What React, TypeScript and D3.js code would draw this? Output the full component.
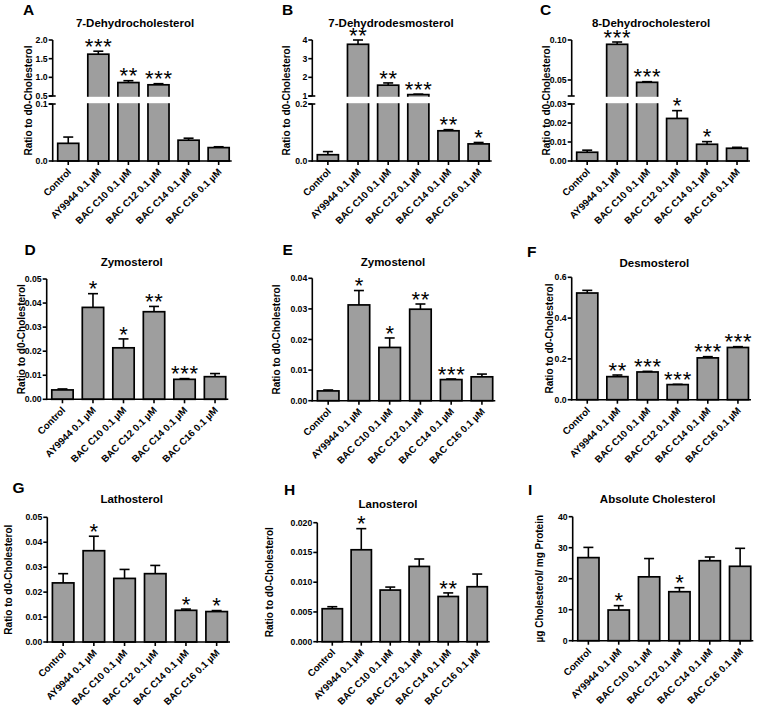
import React from "react";
import * as d3 from "d3";

const categories = [
  "Control",
  "AY9944 0.1 µM",
  "BAC C10 0.1 µM",
  "BAC C12 0.1 µM",
  "BAC C14 0.1 µM",
  "BAC C16 0.1 µM",
];

// A: 7-Dehydrocholesterol
const dhcMean = [0.031, 1.62, 0.86, 0.8, 0.0365, 0.0235];
const dhcErr = [0.011, 0.08, 0.05, 0.03, 0.0035, 0.0015];
const dhcStars = ["", "***", "**", "***", "", ""];
const dhcTicksLow = [0, 0.1];
const dhcTicksHigh = [0.5, 1.0, 1.5, 2.0];

// B: 7-Dehydrodesmosterol
const dhdMean = [0.022, 3.77, 1.58, 1.075, 0.106, 0.06];
const dhdErr = [0.011, 0.23, 0.12, 0.025, 0.004, 0.005];
const dhdStars = ["", "**", "**", "***", "**", "*"];
const dhdTicksLow = [0, 0.2];
const dhdTicksHigh = [1, 2, 3, 4];

// C: 8-Dehydrocholesterol
const edhcMean = [0.0046, 0.0946, 0.0471, 0.0224, 0.0088, 0.0067];
const edhcErr = [0.0011, 0.0029, 0.0008, 0.0041, 0.0014, 0.0005];
const edhcStars = ["", "***", "***", "*", "*", ""];
const edhcTicksLow = [0, 0.01, 0.02, 0.03];
const edhcTicksHigh = [0.05, 0.1];

// D: Zymosterol
const zymMean = [0.0039, 0.0382, 0.0214, 0.0364, 0.0083, 0.0094];
const zymErr = [0.0004, 0.0057, 0.0037, 0.0022, 0.0003, 0.0013];
const zymStars = ["", "*", "*", "**", "***", ""];
const zymTicks = [0, 0.01, 0.02, 0.03, 0.04, 0.05];

// E: Zymostenol
const zynMean = [0.0032, 0.0313, 0.0174, 0.0299, 0.0069, 0.0078];
const zynErr = [0.0003, 0.0047, 0.0031, 0.0017, 0.0002, 0.0009];
const zynStars = ["", "*", "*", "**", "***", ""];
const zynTicks = [0, 0.01, 0.02, 0.03, 0.04];

// F: Desmosterol
const desMean = [0.523, 0.113, 0.136, 0.074, 0.205, 0.256];
const desErr = [0.013, 0.008, 0.003, 0.0015, 0.006, 0.004];
const desStars = ["", "**", "***", "***", "***", "***"];
const desTicks = [0, 0.2, 0.4, 0.6];

// G: Lathosterol
const latMean = [0.0237, 0.0366, 0.0255, 0.0274, 0.0127, 0.0122];
const latErr = [0.0037, 0.0058, 0.0036, 0.0033, 0.0005, 0.0004];
const latStars = ["", "*", "", "", "*", "*"];
const latTicks = [0, 0.01, 0.02, 0.03, 0.04, 0.05];

// H: Lanosterol
const lanMean = [0.00554, 0.01545, 0.00868, 0.01265, 0.0076, 0.00924];
const lanErr = [0.00034, 0.00355, 0.0005, 0.00125, 0.0006, 0.00213];
const lanStars = ["", "*", "", "", "**", ""];
const lanTicks = [0, 0.005, 0.01, 0.015, 0.02];

// I: Absolute Cholesterol
const cholMean = [26.8, 9.9, 20.6, 15.8, 25.8, 24.0];
const cholErr = [3.3, 1.4, 5.9, 1.3, 1.2, 5.8];
const cholStars = ["", "*", "", "*", "", ""];
const cholTicks = [0, 10, 20, 30, 40];

const FONT = "'Liberation Sans', Arial, Helvetica, sans-serif";
const BAR_FILL = "#9e9e9e";
const RATIO = "Ratio to d0-Cholesterol";

type Panel = {
  letter: string;
  title: string;
  yLabel: string;
  mean: number[];
  err: number[];
  stars: string[];
  x0: number;
  x1: number;
  yTop: number;
  yBot: number;
  broken?: boolean;
  domain?: [number, number];
  ticks?: number[];
  fmt?: string;
  lowDomain?: [number, number];
  highDomain?: [number, number];
  lowTicks?: number[];
  highTicks?: number[];
  lowFmt?: string;
  highFmt?: string;
  breakLow?: number;
  breakHigh?: number;
  titleX: number;
  titleY: number;
  letterX: number;
  letterY: number;
  yTitleX: number;
};

const panels: Panel[] = [
  {
    letter: "A", title: "7-Dehydrocholesterol", yLabel: RATIO,
    mean: dhcMean, err: dhcErr, stars: dhcStars,
    x0: 52.7, x1: 231.7, yTop: 40, yBot: 161, broken: true,
    lowDomain: [0, 0.1], highDomain: [0.5, 2.0], lowTicks: dhcTicksLow, highTicks: dhcTicksHigh,
    lowFmt: ".1f", highFmt: ".1f", breakLow: 104, breakHigh: 96,
    titleX: 135, titleY: 27.4, letterX: 23, letterY: 15, yTitleX: 28,
  },
  {
    letter: "B", title: "7-Dehydrodesmosterol", yLabel: RATIO,
    mean: dhdMean, err: dhdErr, stars: dhdStars,
    x0: 312.3, x1: 491.7, yTop: 40, yBot: 161, broken: true,
    lowDomain: [0, 0.2], highDomain: [1, 4], lowTicks: dhdTicksLow, highTicks: dhdTicksHigh,
    lowFmt: ".1f", highFmt: "d", breakLow: 104, breakHigh: 96,
    titleX: 391, titleY: 27.4, letterX: 282, letterY: 15, yTitleX: 286.3,
  },
  {
    letter: "C", title: "8-Dehydrocholesterol", yLabel: RATIO,
    mean: edhcMean, err: edhcErr, stars: edhcStars,
    x0: 571.7, x1: 750, yTop: 40, yBot: 161, broken: true,
    lowDomain: [0, 0.03], highDomain: [0.03, 0.1], lowTicks: edhcTicksLow, highTicks: edhcTicksHigh,
    lowFmt: ".2f", highFmt: ".2f", breakLow: 104, breakHigh: 96,
    titleX: 651, titleY: 27.4, letterX: 540, letterY: 15, yTitleX: 546,
  },
  {
    letter: "D", title: "Zymosterol", yLabel: RATIO,
    mean: zymMean, err: zymErr, stars: zymStars,
    x0: 46.7, x1: 228.3, yTop: 279, yBot: 399.3, domain: [0, 0.05], ticks: zymTicks, fmt: ".2f",
    titleX: 131.7, titleY: 266.4, letterX: 24.5, letterY: 255, yTitleX: 21.7,
  },
  {
    letter: "E", title: "Zymostenol", yLabel: RATIO,
    mean: zynMean, err: zynErr, stars: zynStars,
    x0: 312.3, x1: 495.3, yTop: 278.3, yBot: 400.7, domain: [0, 0.04], ticks: zynTicks, fmt: ".2f",
    titleX: 393, titleY: 266.4, letterX: 282.5, letterY: 255, yTitleX: 276,
  },
  {
    letter: "F", title: "Desmosterol", yLabel: RATIO,
    mean: desMean, err: desErr, stars: desStars,
    x0: 571.7, x1: 751, yTop: 277.3, yBot: 399.7, domain: [0, 0.6], ticks: desTicks, fmt: ".1f",
    titleX: 654.3, titleY: 267.4, letterX: 527, letterY: 256.7, yTitleX: 549.3,
  },
  {
    letter: "G", title: "Lathosterol", yLabel: RATIO,
    mean: latMean, err: latErr, stars: latStars,
    x0: 47.3, x1: 230, yTop: 517.3, yBot: 642, domain: [0, 0.05], ticks: latTicks, fmt: ".2f",
    titleX: 131.7, titleY: 503.4, letterX: 12.5, letterY: 493.3, yTitleX: 8.3,
  },
  {
    letter: "H", title: "Lanosterol", yLabel: RATIO,
    mean: lanMean, err: lanErr, stars: lanStars,
    x0: 317.3, x1: 489.7, yTop: 522.7, yBot: 641.7, domain: [0, 0.02], ticks: lanTicks, fmt: ".3f",
    titleX: 388, titleY: 508, letterX: 284, letterY: 495, yTitleX: 269.7,
  },
  {
    letter: "I", title: "Absolute Cholesterol", yLabel: "µg Cholesterol/ mg Protein",
    mean: cholMean, err: cholErr, stars: cholStars,
    x0: 572.7, x1: 753.3, yTop: 516.7, yBot: 640.7, domain: [0, 40], ticks: cholTicks, fmt: "d",
    titleX: 657.7, titleY: 503, letterX: 528, letterY: 495, yTitleX: 539.3,
  },
];

function PanelView({ p }: { p: Panel }) {
  const x = d3
    .scaleBand<string>()
    .domain(categories)
    .range([p.x0 + 0.5, p.x1 + 2])
    .paddingInner(0.3)
    .paddingOuter(0.15);
  const bw = x.bandwidth();

  let y: (v: number) => number;
  const tickItems: { y: number; label: string }[] = [];
  if (p.broken) {
    const low = d3.scaleLinear().domain(p.lowDomain!).range([p.yBot, p.breakLow!]);
    const high = d3.scaleLinear().domain(p.highDomain!).range([p.breakHigh!, p.yTop]);
    y = (v: number) => (v <= p.lowDomain![1] ? low(v) : high(v));
    const lf = d3.format(p.lowFmt!);
    const hf = d3.format(p.highFmt!);
    p.lowTicks!.forEach((t) => tickItems.push({ y: low(t), label: lf(t) }));
    p.highTicks!.forEach((t) => tickItems.push({ y: high(t), label: hf(t) }));
  } else {
    const s = d3.scaleLinear().domain(p.domain!).range([p.yBot, p.yTop]);
    y = s;
    const f = d3.format(p.fmt!);
    p.ticks!.forEach((t) => tickItems.push({ y: s(t), label: f(t) }));
  }

  const sw = 1.7;
  const yMid = (p.yTop + p.yBot) / 2;

  return (
    <g>
      <text x={p.letterX} y={p.letterY} fontFamily={FONT} fontWeight="bold" fontSize={15.5} fill="#000">
        {p.letter}
      </text>
      <text x={p.titleX} y={p.titleY} fontFamily={FONT} fontWeight="bold" fontSize={11.5} textAnchor="middle" fill="#000">
        {p.title}
      </text>
      <text
        transform={`translate(${p.yTitleX},${yMid}) rotate(-90)`}
        dy="0.36em"
        fontFamily={FONT}
        fontWeight="bold"
        fontSize={10}
        textAnchor="middle"
        fill="#000"
      >
        {p.yLabel}
      </text>

      {/* bars */}
      {categories.map((c, i) => {
        const bx = x(c)!;
        const top = y(p.mean[i]);
        return (
          <rect
            key={"b" + i}
            x={bx}
            y={top}
            width={bw}
            height={p.yBot - top}
            fill={BAR_FILL}
            stroke="#000"
            strokeWidth={sw}
          />
        );
      })}
      {/* error bars */}
      {categories.map((c, i) => {
        const cx = x(c)! + bw / 2;
        const top = y(p.mean[i]);
        const et = y(p.mean[i] + p.err[i]);
        return (
          <g key={"e" + i} stroke="#000" strokeWidth={1.6}>
            <line x1={cx} x2={cx} y1={top} y2={et} />
            <line x1={cx - 5} x2={cx + 5} y1={et} y2={et} />
          </g>
        );
      })}
      {/* break gap */}
      {p.broken && (
        <rect
          x={p.x0 + 1}
          y={p.breakHigh! + 0.8}
          width={p.x1 - p.x0 + 4}
          height={p.breakLow! - p.breakHigh! - 1.6}
          fill="#fff"
        />
      )}
      {/* stars */}
      {categories.map((c, i) => {
        if (!p.stars[i]) return null;
        const cx = x(c)! + bw / 2;
        const et = y(p.mean[i] + p.err[i]);
        const cy = et - 10;
        return (
          <text
            key={"s" + i}
            x={cx + 0.35}
            y={cy + 12.8}
            fontFamily={FONT}
            fontSize={22}
            letterSpacing={0.7}
            textAnchor="middle"
            fill="#000"
          >
            {p.stars[i]}
          </text>
        );
      })}

      {/* axes */}
      <g stroke="#000" strokeWidth={1.6} fill="none">
        {p.broken ? (
          <>
            <line x1={p.x0} x2={p.x0} y1={p.yTop} y2={p.breakHigh!} />
            <line x1={p.x0} x2={p.x0} y1={p.breakLow!} y2={p.yBot + 0.8} />
            <line x1={p.x0 - 4} x2={p.x0 + 3} y1={p.breakHigh!} y2={p.breakHigh!} />
            <line x1={p.x0 - 4} x2={p.x0 + 3} y1={p.breakLow!} y2={p.breakLow!} />
          </>
        ) : (
          <line x1={p.x0} x2={p.x0} y1={p.yTop} y2={p.yBot + 0.8} />
        )}
        {tickItems.map((t, i) => (
          <line key={"yt" + i} x1={p.x0 - 4} x2={p.x0} y1={t.y} y2={t.y} />
        ))}
        <line x1={p.x0 - 0.8} x2={p.x1} y1={p.yBot} y2={p.yBot} />
        {categories.map((c, i) => {
          const cx = x(c)! + bw / 2;
          return <line key={"xt" + i} x1={cx} x2={cx} y1={p.yBot} y2={p.yBot + 4} />;
        })}
      </g>
      {tickItems.map((t, i) => (
        <text
          key={"yl" + i}
          x={p.x0 - 5}
          y={t.y}
          dy="0.35em"
          fontFamily={FONT}
          fontWeight="bold"
          fontSize={8.7}
          textAnchor="end"
          fill="#000"
        >
          {t.label}
        </text>
      ))}
      {categories.map((c, i) => {
        const cx = x(c)! + bw / 2;
        return (
          <text
            key={"xl" + i}
            transform={`translate(${cx + 3.5},${p.yBot + 11.5}) rotate(-45)`}
            fontFamily={FONT}
            fontWeight="bold"
            fontSize={9.7}
            textAnchor="end"
            fill="#000"
          >
            {c}
          </text>
        );
      })}
    </g>
  );
}

export default function App() {
  return (
    <svg
      width={760}
      height={707}
      viewBox="0 0 760 707"
      style={{ position: "absolute", left: 0, top: 0, background: "#fff" }}
    >
      <rect x={0} y={0} width={760} height={707} fill="#fff" />
      {panels.map((p) => (
        <PanelView key={p.letter} p={p} />
      ))}
    </svg>
  );
}
